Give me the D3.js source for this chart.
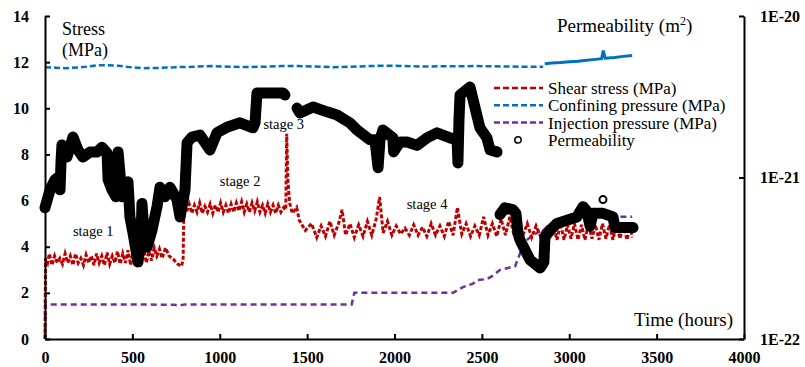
<html>
<head>
  <meta charset="utf-8">
  <script src="https://d3js.org/d3.v7.min.js"></script>
  <style>
    body { margin: 0; background: #fff; }
    text { font-family: "Liberation Serif", "Times New Roman", serif; }
  </style>
  <script>
    // time (hours) vs shear stress (MPa)
    var shear = [[0,0],[3,3.5],[15,3.3],[25,3.7],[40,3.2],[55,3.6],[70,3.3],[85,3.5],[100,3.25],[115,3.7],
      [130,3.3],[145,3.6],[160,3.2],[175,3.7],[190,3.3],[205,3.5],[220,3.2],[235,3.65],[250,3.3],[265,3.6],
      [280,3.2],[295,3.7],[310,3.3],[325,3.6],[340,3.2],[355,3.75],[370,3.25],[385,3.6],[400,3.3],[415,3.8],
      [430,3.25],[445,3.7],[460,3.3],[475,3.85],[490,3.2],[505,3.8],[520,3.3],[535,3.75],[550,3.25],[565,3.9],
      [580,3.3],[595,3.8],[610,3.4],[625,3.95],[640,3.6],[655,3.9],[670,3.5],[690,3.95],[710,3.6],[735,3.45],
      [760,3.25],[780,3.15],[790,3.4],[795,5.6],[810,5.5],[825,5.85],[840,5.45],[855,5.8],[870,5.5],[885,5.9],
      [900,5.45],[915,5.75],[930,5.5],[945,5.85],[960,5.45],[975,5.8],[990,5.5],[1005,5.9],[1020,5.5],[1035,5.8],
      [1050,5.45],[1065,5.85],[1080,5.5],[1095,5.9],[1110,5.55],[1125,5.95],[1140,5.5],[1155,5.85],[1170,5.5],
      [1185,5.9],[1200,5.55],[1215,5.95],[1230,5.5],[1245,5.8],[1260,5.45],[1275,5.85],[1290,5.5],[1305,5.8],
      [1320,5.45],[1335,5.8],[1350,5.5],[1365,5.7],[1378,5.6],[1383,8.9],[1390,6.9],[1400,5.9],[1415,5.45],
      [1440,5.7],[1455,5.15],[1490,4.7],[1525,5.0],[1555,4.4],[1580,4.9],[1605,4.45],[1630,5.1],[1655,4.5],
      [1680,5.0],[1700,5.6],[1720,4.5],[1745,5.0],[1770,4.4],[1795,4.95],[1820,4.45],[1845,5.1],[1870,4.5],
      [1895,5.2],[1915,6.15],[1935,4.6],[1960,5.1],[1985,4.5],[2010,4.9],[2035,4.55],[2060,4.8],[2085,4.5],
      [2110,4.95],[2135,4.5],[2160,4.85],[2185,4.45],[2210,5.0],[2235,4.5],[2260,4.9],[2285,4.45],[2310,5.1],
      [2335,4.5],[2360,5.7],[2385,4.55],[2410,5.0],[2435,4.45],[2460,4.9],[2485,4.5],[2510,5.3],[2535,4.5],
      [2560,5.0],[2585,4.45],[2610,5.2],[2635,4.5],[2660,5.3],[2685,4.45],[2710,5.1],[2735,4.5],[2760,5.0],
      [2785,4.4],[2810,4.9],[2835,4.45],[2860,4.8],[2885,4.4],[2910,4.9],[2930,4.3],[2950,5.0],[2970,4.3],
      [2990,4.95],[3010,4.35],[3030,5.0],[3050,4.3],[3070,4.95],[3090,4.3],[3110,5.0],[3130,4.35],[3150,4.95],
      [3170,4.3],[3190,5.0],[3210,4.35],[3230,4.95],[3250,4.3],[3270,5.0],[3290,4.35],[3310,4.95],[3330,4.3],
      [3350,4.9],[3360,4.4]];

    var confining = [[0,11.78],[60,11.76],[120,11.74],[200,11.77],[300,11.86],[360,11.87],[420,11.84],
      [500,11.77],[560,11.74],[650,11.75],[750,11.78],[850,11.8],[950,11.83],[1050,11.8],[1150,11.79],
      [1250,11.8],[1350,11.83],[1450,11.83],[1550,11.81],[1650,11.78],[1750,11.8],[1850,11.83],[1950,11.85],
      [2050,11.83],[2150,11.81],[2250,11.82],[2350,11.82],[2450,11.83],[2550,11.82],[2650,11.81],[2750,11.8],
      [2850,11.8]];
    var confiningEnd = [[2860,11.93],[2900,11.96],[2950,11.98],[3000,12.02],[3050,12.04],[3100,12.08],
      [3150,12.12],[3185,12.15],[3195,12.5],[3205,12.17],[3260,12.2],[3310,12.25],[3360,12.29]];

    var injection = [[0,0],[2,1.5],[200,1.5],[500,1.5],[740,1.48],[770,1.45],[800,1.5],[1000,1.5],
      [1400,1.5],[1755,1.5],[1770,2.0],[2000,2.0],[2335,2.0],[2358,2.1],[2392,2.25],[2449,2.4],[2472,2.55],
      [2529,2.6],[2564,2.75],[2604,3.0],[2661,3.1],[2690,3.15],[2718,3.7],[2735,4.15],[2775,4.4],[2815,4.6],
      [2850,4.7],[2890,5.0],[2930,5.1],[3004,5.2],[3060,5.3],[3360,5.3]];

    // permeability (m2), three recorded runs and one stray reading
    var permA = [[0,6.5e-22],[29,8.4e-22],[57,9.7e-22],[74,1.0e-21],[86,8.4e-22],[92,1.28e-21],[97,1.59e-21],
      [126,1.34e-21],[160,1.78e-21],[189,1.48e-21],[217,1.34e-21],[258,1.44e-21],[298,1.44e-21],[326,1.54e-21],
      [355,1.42e-21],[361,9.7e-22],[383,8.4e-22],[406,7.6e-22],[418,1.44e-21],[441,7.6e-22],[475,9.4e-22],
      [486,5.7e-22],[504,4.5e-22],[532,3.0e-22],[549,4.1e-22],[555,6.9e-22],[572,3.8e-22],[584,3.7e-22],
      [612,4.7e-22],[641,6.6e-22],[658,8.7e-22],[687,7.6e-22],[715,8.7e-22],[755,7.3e-22],[773,5.7e-22],
      [801,8.4e-22],[813,1.64e-21],[841,1.78e-21],[887,1.83e-21],[944,1.48e-21],[984,1.89e-21],[1041,2.05e-21],
      [1116,2.18e-21],[1190,2.03e-21],[1202,2.18e-21],[1213,3.34e-21],[1248,3.34e-21],[1362,3.34e-21],
      [1373,3.24e-21]];
    var permB = [[1442,2.69e-21],[1459,2.51e-21],[1534,2.73e-21],[1614,2.55e-21],[1671,2.44e-21],
      [1745,2.18e-21],[1785,1.97e-21],[1860,1.71e-21],[1888,1.71e-21],[1906,1.15e-21],[1917,1.71e-21],
      [1934,1.97e-21],[1991,1.76e-21],[1995,1.44e-21],[2031,1.66e-21],[2072,1.66e-21],[2129,1.58e-21],
      [2186,1.76e-21],[2243,1.89e-21],[2318,1.76e-21],[2358,1.71e-21],[2363,1.23e-21],[2369,2.27e-21],
      [2375,3.24e-21],[2432,3.63e-21],[2489,2.03e-21],[2529,1.76e-21],[2547,1.48e-21],[2587,1.44e-21]];
    var permC = [[2604,5.9e-22],[2632,6.5e-22],[2678,6.3e-22],[2695,6.0e-22],[2707,4.5e-22],[2718,4.1e-22],
      [2775,3.1e-22],[2833,2.75e-22],[2855,3.0e-22],[2861,4.3e-22],[2890,4.7e-22],[2930,5.2e-22],
      [3000,5.5e-22],[3044,5.7e-22],[3079,6.6e-22],[3100,6.2e-22],[3119,5.0e-22],[3136,6.0e-22],
      [3193,6.0e-22],[3250,5.7e-22],[3262,4.9e-22],[3300,4.9e-22],[3365,4.9e-22]];
    var permStray = [[3193,7.3e-22]];

    var timeTicks = [0,500,1000,1500,2000,2500,3000,3500,4000];
    var stressTicks = [0,2,4,6,8,10,12,14];
    var permTicks = [1e-22,1e-21,1e-20];

    var legendNames = ["Shear stress (MPa)","Confining pressure (MPa)","Injection pressure (MPa)","Permeability"];
    var stageNames = ["stage 1","stage 2","stage 3","stage 4"];
    var stageAt = [[160,4.45],[1000,6.65],[1250,9.1],[2070,5.65]];

    function makeChart() {
      var svg = d3.select("#chart");
      var x = d3.scaleLinear().domain([0,4000]).range([45,744]);
      var y = d3.scaleLinear().domain([0,14]).range([339,16]);
      var yk = d3.scaleLog().domain([1e-22,1e-20]).range([339,16]);

      var line = d3.line().x(d => x(d[0])).y(d => y(d[1]));
      var kLine = d3.line().x(d => x(d[0])).y(d => yk(d[1]));

      // series
      var g = svg.append("g").attr("fill", "none");
      g.append("path").attr("d", line(confining)).attr("stroke", "#0070C0")
        .attr("stroke-width", 2.5).attr("stroke-dasharray", "6,3");
      g.append("path").attr("d", line(confiningEnd)).attr("stroke", "#0070C0").attr("stroke-width", 3);
      g.append("path").attr("d", line(injection)).attr("stroke", "#7030A0")
        .attr("stroke-width", 2.5).attr("stroke-dasharray", "6,4");
      g.append("path").attr("d", line(shear)).attr("stroke", "#C00000")
        .attr("stroke-width", 3).attr("stroke-dasharray", "4,2");

      [permA, permB, permC].forEach(function (seg) {
        g.append("path").attr("d", kLine(seg)).attr("stroke", "#000")
          .attr("stroke-width", 11).attr("stroke-linecap", "round").attr("stroke-linejoin", "round");
      });
      g.selectAll("circle.k").data(permStray).enter().append("circle")
        .attr("cx", d => x(d[0])).attr("cy", d => yk(d[1])).attr("r", 3.5)
        .attr("stroke", "#000").attr("stroke-width", 2);

      // axes
      var ax = svg.append("g").attr("transform", "translate(0,339)")
        .call(d3.axisBottom(x).tickValues(timeTicks).tickSize(-5).tickSizeOuter(0).tickPadding(13).tickFormat(d3.format("d")));
      var ay = svg.append("g").attr("transform", "translate(45,0)")
        .call(d3.axisLeft(y).tickValues(stressTicks).tickSize(-5).tickSizeOuter(0).tickPadding(16));
      var ak = svg.append("g").attr("transform", "translate(744,0)")
        .call(d3.axisRight(yk).tickValues(permTicks).tickSize(-5).tickSizeOuter(0).tickPadding(16)
          .tickFormat(d => "1E" + Math.round(Math.log10(d))));
      [ax, ay, ak].forEach(function (a) {
        a.selectAll("path, line").attr("stroke", "#000").attr("stroke-width", 2);
        a.selectAll("text").attr("font-family", "Liberation Serif").attr("font-size", 16)
          .attr("font-weight", "bold").attr("fill", "#000");
      });

      // axis titles
      var t = svg.append("g").attr("font-size", 19).attr("fill", "#000");
      t.append("text").attr("x", 62).attr("y", 35).attr("font-size", 18).text("Stress");
      t.append("text").attr("x", 62).attr("y", 56).attr("font-size", 18).text("(MPa)");
      var pt = t.append("text").attr("x", 557).attr("y", 32).text("Permeability (m");
      pt.append("tspan").attr("font-size", 12).attr("dy", -7).text("2");
      pt.append("tspan").attr("dy", 7).text(")");
      t.append("text").attr("x", 733).attr("y", 326).attr("text-anchor", "end").text("Time (hours)");

      // stage labels
      svg.append("g").attr("font-size", 14.5).selectAll("text").data(stageNames).enter().append("text")
        .attr("x", (d, i) => x(stageAt[i][0])).attr("y", (d, i) => y(stageAt[i][1])).text(d => d);

      // legend
      var lg = svg.append("g").attr("transform", "translate(494,88)");
      var colors = ["#C00000","#0070C0","#7030A0"];
      var rows = lg.selectAll("g").data(legendNames).enter().append("g")
        .attr("transform", (d, i) => "translate(0," + (i * 17.3) + ")");
      rows.filter((d, i) => i < 3).append("line").attr("x1", 0).attr("x2", 49)
        .attr("stroke", (d, i) => colors[i]).attr("stroke-width", 2.5).attr("stroke-dasharray", "6,3");
      rows.filter((d, i) => i === 3).append("circle").attr("cx", 24).attr("r", 3.2)
        .attr("fill", "none").attr("stroke", "#000").attr("stroke-width", 1.5);
      rows.append("text").attr("x", 54).attr("dy", "0.35em").attr("font-size", 17).text(d => d);
    }
  </script>
</head>
<body onload="makeChart()">
  <svg id="chart" width="805" height="367"></svg>
</body>
</html>
